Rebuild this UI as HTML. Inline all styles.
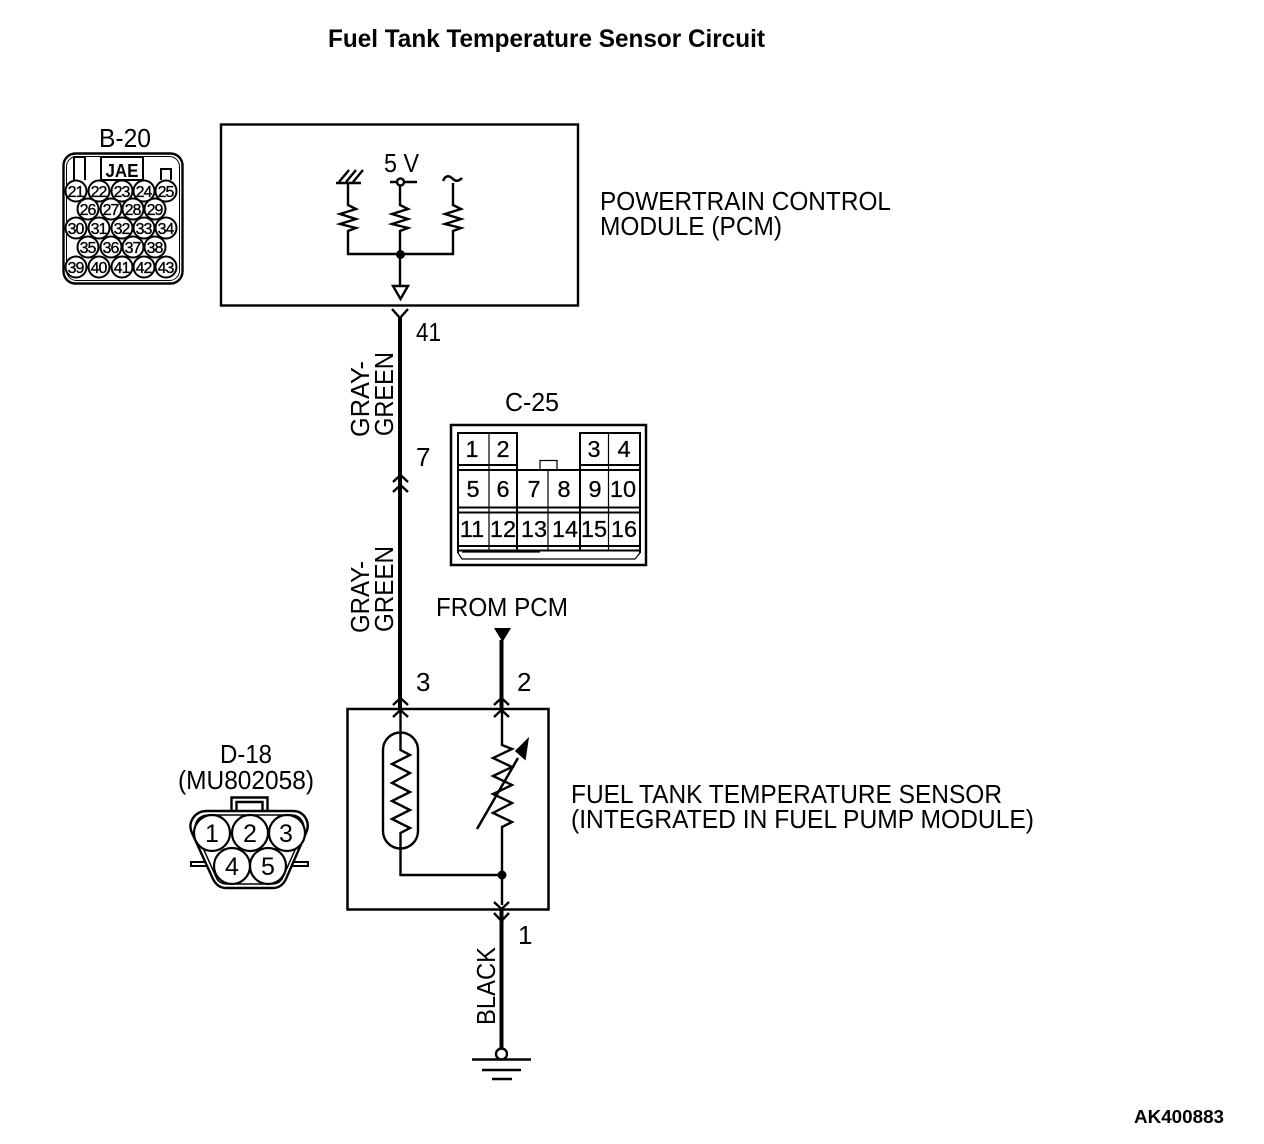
<!DOCTYPE html>
<html><head><meta charset="utf-8"><style>
html,body{margin:0;padding:0;background:#fff;width:1264px;height:1144px;overflow:hidden}
svg{display:block}
text{font-family:"Liberation Sans",sans-serif;fill:#000}
.l{font-size:26px}
.n{font-size:16px;text-anchor:middle;letter-spacing:-1px;stroke:#000;stroke-width:.35px}
.c{font-size:23.5px;text-anchor:middle;stroke:#000;stroke-width:.25px}
.d{font-size:25px;text-anchor:middle}
</style></head><body>
<svg width="1264" height="1144" viewBox="0 0 1264 1144" xmlns="http://www.w3.org/2000/svg">
<g fill="none" stroke="#000" stroke-width="2.400">
<!-- PCM box -->
<rect x="221" y="124.500" width="357" height="181"/>
<!-- PCM circuit -->
<path d="M348 183V205L356 209L340 214L356 219L340 224L356 228L348 231V254H453V231L461 228L445 224L461 219L445 214L461 209L453 205V183"/>
<path d="M400 186V205L408 209L392 214L408 219L392 224L408 228L400 231V286"/>
<path d="M336 183H361M339 182L349 170M346 182L356 170M353 182L363 170"/>
<path d="M390 182H417"/>
<circle cx="400.500" cy="182" r="3.500" fill="#fff"/>
<path d="M443 181C446 174 450 176 453 179C456 182 459 181 462 178"/>
<path d="M393 286H408L400.500 299Z"/>
<!-- main wire -->
<path d="M392 309L400 318L408 309" />
<path d="M400 316V708" stroke-width="4"/>
<path d="M393 482L400.500 475L408 482M393 492L400.500 485L408 492"/>
<!-- sensor box -->
<rect x="347.500" y="709" width="201" height="200.500" stroke-width="2.500"/>
<path d="M501.500 640V708" stroke-width="4"/>
<path d="M393 705L400.500 698L408 705M393 717L400.500 710L408 717"/>
<path d="M494 705L501.500 698L509 705M494 717L501.500 710L509 717"/>
<path d="M400.500 708V750L410 755L392 764L410 773L392 783L410 792L392 801L410 810L392 819L410 828L400.500 833V875H502"/>
<rect x="383" y="732.500" width="35" height="116" rx="17.500" ry="17.500"/>
<path d="M502 708V745L512 749L493 758L512 767L493 776L512 785L493 794L512 803L493 813L512 822L502 827V905"/>
<path d="M477 829L518 758" stroke-width="2.500"/>
<path d="M528 739L516 751L525 759Z" fill="#000" stroke-width="1.500"/>
<path d="M494 902L501.500 909L509 902M494 913L501.500 921L509 913"/>
<path d="M501.500 908V1049" stroke-width="4"/>
<circle cx="501.500" cy="1054" r="5.500" fill="#fff"/>
<path d="M472 1059.500H531M482 1070H521M492 1079H512"/>
<!-- B-20 -->
<rect x="63.500" y="153.500" width="119" height="130" rx="12" stroke-width="2.400"/>
<rect x="66.500" y="156.500" width="113" height="124" rx="10" stroke-width="1"/>
<rect x="101" y="157" width="42" height="23" stroke-width="2"/>
<path d="M74 180V157H85V180M161 180V169H171V180" stroke-width="2"/>
<!-- C-25 -->
<rect x="451" y="425" width="195" height="140" stroke-width="2.500"/>
<path d="M458 553V433H517V470M580 470V433H640V553M458 470H640M458 465H517M580 465H640M458 507.500H640M458 512.500H640M458 546H640M458 550.500H640M517 470V550M580 470V550" stroke-width="2"/>
<path d="M489 433V550M548 470V550M608.500 433V550M540 469V460.500H557V469M458 553L462 559H635L640 553M462 552H540" stroke-width="1.200"/>
<!-- D-18 -->
<path d="M231.500 810V797.500H267.500V810M236.500 810V802H262.500V810" stroke-width="2.400"/>
<path d="M207 811H293C304 811 311 822 306 833L286 879C283 885 279 888 273 888H226C220 888 216 885 213 879L192 833C187 822 195 811 207 811Z" stroke-width="2.400"/>
<path d="M208 815H292C300 815 306 823 303 832L283 877C281 882 277 884 272 884H227C222 884 218 882 216 877L196 832C193 823 199 815 208 815Z" stroke-width="1.500"/>
<path d="M206 862H191V866H208M293 862H308V866H291" stroke-width="2"/>
</g>
<!-- B-20 pins -->
<g fill="#fff" stroke="#000" stroke-width="2">
<circle cx="76" cy="191" r="10.500"/><circle cx="99" cy="191" r="10.500"/><circle cx="122" cy="191" r="10.500"/><circle cx="144" cy="191" r="10.500"/><circle cx="166" cy="191" r="10.500"/>
<circle cx="88" cy="209" r="10.500"/><circle cx="111" cy="209" r="10.500"/><circle cx="133" cy="209" r="10.500"/><circle cx="155" cy="209" r="10.500"/>
<circle cx="76" cy="228" r="10.500"/><circle cx="99" cy="228" r="10.500"/><circle cx="122" cy="228" r="10.500"/><circle cx="144" cy="228" r="10.500"/><circle cx="166" cy="228" r="10.500"/>
<circle cx="88" cy="247" r="10.500"/><circle cx="111" cy="247" r="10.500"/><circle cx="133" cy="247" r="10.500"/><circle cx="155" cy="247" r="10.500"/>
<circle cx="76" cy="267" r="10.500"/><circle cx="99" cy="267" r="10.500"/><circle cx="122" cy="267" r="10.500"/><circle cx="144" cy="267" r="10.500"/><circle cx="166" cy="267" r="10.500"/>
</g>
<!-- D-18 pins -->
<g fill="#fff" stroke="#000" stroke-width="2.200">
<circle cx="212" cy="833" r="18"/><circle cx="250" cy="833" r="18"/><circle cx="287" cy="833" r="18"/>
<circle cx="232" cy="866" r="18"/><circle cx="268" cy="866" r="18"/>
</g>
<!-- solid dots -->
<circle cx="400.500" cy="254.500" r="4.500"/>
<circle cx="502" cy="875" r="4.500"/>
<path d="M494 628H511L502.500 642Z"/>
<!-- labels -->
<text x="328" y="47" font-size="25" font-weight="bold" textLength="437" lengthAdjust="spacingAndGlyphs">Fuel Tank Temperature Sensor Circuit</text>
<text class="l" x="99" y="147" textLength="52" lengthAdjust="spacingAndGlyphs">B-20</text>
<text class="l" x="384" y="172" textLength="35" lengthAdjust="spacingAndGlyphs">5 V</text>
<text class="l" x="600" y="210" textLength="291" lengthAdjust="spacingAndGlyphs">POWERTRAIN CONTROL</text>
<text class="l" x="600" y="235" textLength="182" lengthAdjust="spacingAndGlyphs">MODULE (PCM)</text>
<text class="l" x="416" y="341" textLength="25" lengthAdjust="spacingAndGlyphs">41</text>
<text class="l" x="416" y="466">7</text>
<text class="l" x="505" y="411" textLength="54" lengthAdjust="spacingAndGlyphs">C-25</text>
<text class="l" x="436" y="616" textLength="132" lengthAdjust="spacingAndGlyphs">FROM PCM</text>
<text class="l" x="416" y="691">3</text>
<text class="l" x="517" y="691">2</text>
<text class="l" x="518" y="944">1</text>
<text class="l" x="220" y="763" textLength="52" lengthAdjust="spacingAndGlyphs">D-18</text>
<text class="l" x="178" y="789" textLength="136" lengthAdjust="spacingAndGlyphs">(MU802058)</text>
<text class="l" x="571" y="803" textLength="431" lengthAdjust="spacingAndGlyphs">FUEL TANK TEMPERATURE SENSOR</text>
<text class="l" x="571" y="828" textLength="463" lengthAdjust="spacingAndGlyphs">(INTEGRATED IN FUEL PUMP MODULE)</text>
<text x="1134" y="1123" font-size="18" font-weight="bold" textLength="90" lengthAdjust="spacingAndGlyphs">AK400883</text>
<text class="l" transform="translate(369,437) rotate(-90)" textLength="76" lengthAdjust="spacingAndGlyphs">GRAY-</text>
<text class="l" transform="translate(393,436) rotate(-90)" textLength="84" lengthAdjust="spacingAndGlyphs">GREEN</text>
<text class="l" transform="translate(369,633) rotate(-90)" textLength="72" lengthAdjust="spacingAndGlyphs">GRAY-</text>
<text class="l" transform="translate(393,632) rotate(-90)" textLength="86" lengthAdjust="spacingAndGlyphs">GREEN</text>
<text class="l" transform="translate(495,1025) rotate(-90)" textLength="78" lengthAdjust="spacingAndGlyphs">BLACK</text>
<text x="122" y="177" font-size="18" font-weight="bold" text-anchor="middle" textLength="33" lengthAdjust="spacingAndGlyphs">JAE</text>
<g class="pins">
<text class="n" x="75.500" y="197">21</text><text class="n" x="98.500" y="197">22</text><text class="n" x="121.500" y="197">23</text><text class="n" x="143.500" y="197">24</text><text class="n" x="165.500" y="197">25</text>
<text class="n" x="87.500" y="215">26</text><text class="n" x="110.500" y="215">27</text><text class="n" x="132.500" y="215">28</text><text class="n" x="154.500" y="215">29</text>
<text class="n" x="75.500" y="234">30</text><text class="n" x="98.500" y="234">31</text><text class="n" x="121.500" y="234">32</text><text class="n" x="143.500" y="234">33</text><text class="n" x="165.500" y="234">34</text>
<text class="n" x="87.500" y="253">35</text><text class="n" x="110.500" y="253">36</text><text class="n" x="132.500" y="253">37</text><text class="n" x="154.500" y="253">38</text>
<text class="n" x="75.500" y="273">39</text><text class="n" x="98.500" y="273">40</text><text class="n" x="121.500" y="273">41</text><text class="n" x="143.500" y="273">42</text><text class="n" x="165.500" y="273">43</text>
</g>
<text class="c" x="472" y="457">1</text><text class="c" x="503" y="457">2</text><text class="c" x="594" y="457">3</text><text class="c" x="624" y="457">4</text>
<text class="c" x="473" y="497">5</text><text class="c" x="503" y="497">6</text><text class="c" x="534" y="497">7</text><text class="c" x="564" y="497">8</text><text class="c" x="595" y="497">9</text><text class="c" x="623" y="497">10</text>
<text class="c" x="472" y="537">11</text><text class="c" x="503" y="537">12</text><text class="c" x="534" y="537">13</text><text class="c" x="565" y="537">14</text><text class="c" x="594" y="537">15</text><text class="c" x="624" y="537">16</text>
<text class="d" x="212" y="842">1</text><text class="d" x="250" y="842">2</text><text class="d" x="286" y="842">3</text><text class="d" x="232" y="875">4</text><text class="d" x="268" y="875">5</text>
</svg>
</body></html>
